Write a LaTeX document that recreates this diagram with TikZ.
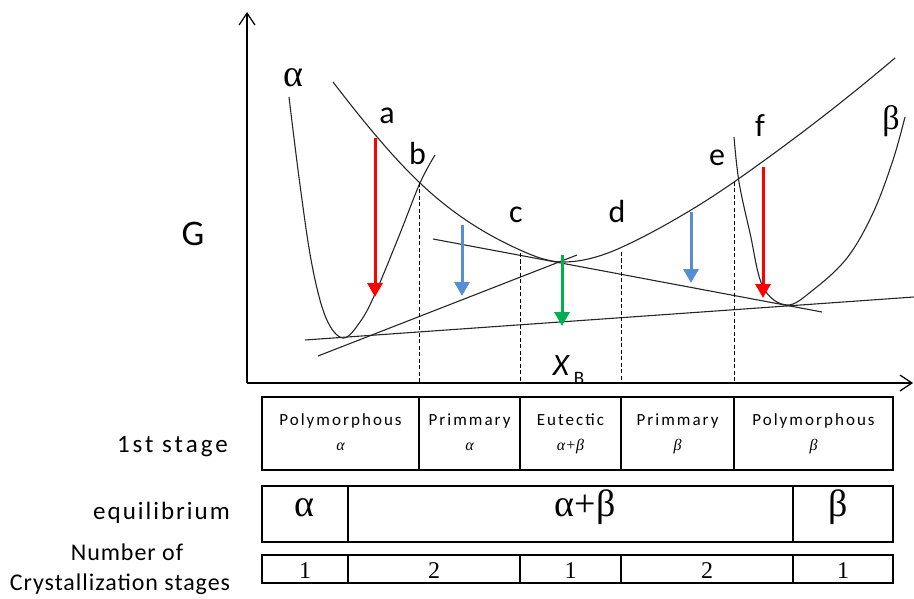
\documentclass[tikz,border=0pt]{standalone}
\usepackage{fontspec}
\setmainfont{Carlito}
\newfontfamily\grk{Liberation Serif}
\usetikzlibrary{arrows.meta}
\definecolor{myred}{HTML}{FF0000}
\definecolor{myblue}{HTML}{558ED5}
\definecolor{mygreen}{HTML}{00B050}
\newcommand\myfs[1]{\fontsize{#1}{#1}\selectfont}
\begin{document}
\begin{tikzpicture}[x=1pt,y=-1pt,
  curve/.style={line width=1.1pt, draw=black!85},
  axisline/.style={line width=1.4pt, -{Straight Barb[length=12pt,width=16pt,line width=1.2pt]}},
  dashv/.style={line width=1pt, dash pattern=on 4pt off 2.5pt},
  cell/.style={draw, line width=1.3pt},
  lbl/.style={font=\myfs{32}, anchor=base, inner sep=0pt},
  glbl/.style={font=\grk\myfs{38}, anchor=base, inner sep=0pt},
  txt/.style={anchor=base, inner sep=0pt},
  downarr/.style={line width=3pt, -{Triangle[width=15pt,length=14pt]}}]
\useasboundingbox (0,0) rectangle (914,599);
% axes
\coordinate (O) at (247,383);
\coordinate (Ytop) at (247,12);
\coordinate (Xend) at (913,383);
\draw[axisline] (O) -- (Ytop);
\draw[axisline] (O) -- (Xend);
% liquid curve
\draw[curve] (333,82) .. controls (362,119.7) and (391,155.45) .. (420,183)
  .. controls (453.3,214.7) and (486.7,235) .. (520,250)
  .. controls (534.3,256.45) and (548.7,262) .. (563,262)
  .. controls (582,262) and (601,256.55) .. (620,248)
  .. controls (643.7,237.35) and (667.3,224.2) .. (691,210)
  .. controls (705.3,201.4) and (719.7,192) .. (734,182)
  .. controls (787.7,144.4) and (841.3,103.6) .. (895,58);
% alpha curve
\draw[curve] plot[smooth, tension=0.6] coordinates {(289,97) (300,185) (312,265) (326,318) (343,338) (360,322) (375,294) (399,236) (420,183) (435,155)};
% beta curve
\draw[curve] plot[smooth, tension=0.6] coordinates {(734,137) (739,182) (750,233) (763,287) (787,305) (813,290) (847,258) (873,213) (893,160) (905,117)};
% tangents
\coordinate (t1a) at (305,340); \coordinate (t1b) at (914,297);
\coordinate (t2a) at (318,356); \coordinate (t2b) at (577,255);
\coordinate (t3a) at (433,239); \coordinate (t3b) at (822,312);
\draw[curve] (t1a) -- (t1b);
\draw[curve] (t2a) -- (t2b);
\draw[curve] (t3a) -- (t3b);
% dashed verticals
\coordinate (vb) at (419,183); \coordinate (vb0) at (419,383);
\coordinate (vc) at (520,253); \coordinate (vc0) at (520,383);
\coordinate (vd) at (621,252); \coordinate (vd0) at (621,383);
\coordinate (ve) at (734,182); \coordinate (ve0) at (734,383);
\draw[dashv] (vb) -- (vb0);
\draw[dashv] (vc) -- (vc0);
\draw[dashv] (vd) -- (vd0);
\draw[dashv] (ve) -- (ve0);
% arrows
\coordinate (r1a) at (375,138); \coordinate (r1b) at (375,297);
\coordinate (b1a) at (462,225); \coordinate (b1b) at (462,296);
\coordinate (g1a) at (562,255); \coordinate (g1b) at (562,326);
\coordinate (b2a) at (691,212); \coordinate (b2b) at (691,283);
\coordinate (r2a) at (763,167); \coordinate (r2b) at (763,298);
\draw[downarr, myred] (r1a) -- (r1b);
\draw[downarr, myblue] (b1a) -- (b1b);
\draw[downarr, mygreen] (g1a) -- (g1b);
\draw[downarr, myblue] (b2a) -- (b2b);
\draw[downarr, myred] (r2a) -- (r2b);
% labels
\node[glbl] (lalpha) at (293.5,87) {α};
\node[glbl, font=\grk\myfs{34}] (lbeta) at (891,130) {β};
\node[lbl] (la) at (387,124) {a};
\node[lbl] (lb) at (417.5,165) {b};
\node[lbl] (lc) at (516,223) {c};
\node[lbl] (ld) at (617,223) {d};
\node[lbl] (le) at (717,166) {e};
\node[lbl] (lf) at (760,137) {f};
\node[lbl, font=\myfs{36}] (lG) at (193,245) {G};
\node[txt, font=\myfs{31}\itshape] (lX) at (561,375) {X};
\node[txt, font=\myfs{19}] (lB) at (579,384) {B};
% table row 1
\draw[cell] (262,397) rectangle (893,470);
\coordinate (d1a) at (419,397); \coordinate (d1b) at (419,470);
\coordinate (d2a) at (520,397); \coordinate (d2b) at (520,470);
\coordinate (d3a) at (621,397); \coordinate (d3b) at (621,470);
\coordinate (d4a) at (734,397); \coordinate (d4b) at (734,470);
\draw[cell] (d1a) -- (d1b); \draw[cell] (d2a) -- (d2b);
\draw[cell] (d3a) -- (d3b); \draw[cell] (d4a) -- (d4b);
\tikzset{ct/.style={txt, font=\myfs{17}\addfontfeature{LetterSpace=12}},
         cg/.style={txt, font=\grk\itshape\myfs{16}}}
\node[ct] (c1a) at (340.5,425) {Polymorphous};
\node[cg] (c1b) at (340.5,450) {α};
\node[ct] (c2a) at (469.5,425) {Primmary};
\node[cg] (c2b) at (469.5,450) {α};
\node[ct] (c3a) at (570.5,425) {Eutectic};
\node[cg] (c3b) at (570.5,450) {α+β};
\node[ct] (c4a) at (677.5,425) {Primmary};
\node[cg] (c4b) at (677.5,450) {β};
\node[ct] (c5a) at (813.5,425) {Polymorphous};
\node[cg] (c5b) at (813.5,450) {β};
% table row 2
\draw[cell] (262,486) rectangle (893,542);
\coordinate (e1a) at (348,486); \coordinate (e1b) at (348,542);
\coordinate (e2a) at (793,486); \coordinate (e2b) at (793,542);
\draw[cell] (e1a) -- (e1b); \draw[cell] (e2a) -- (e2b);
\node[txt, font=\grk\myfs{38}] (q1) at (304,516) {α};
\node[txt, font=\grk\myfs{38}] (q2) at (585,516) {α+β};
\node[txt, font=\grk\myfs{38}] (q3) at (838,516) {β};
% table row 3
\draw[cell] (262,555) rectangle (893,583);
\coordinate (f1a) at (348,555); \coordinate (f1b) at (348,583);
\coordinate (f2a) at (520,555); \coordinate (f2b) at (520,583);
\coordinate (f3a) at (621,555); \coordinate (f3b) at (621,583);
\coordinate (f4a) at (793,555); \coordinate (f4b) at (793,583);
\draw[cell] (f1a) -- (f1b); \draw[cell] (f2a) -- (f2b);
\draw[cell] (f3a) -- (f3b); \draw[cell] (f4a) -- (f4b);
\tikzset{num/.style={txt, font=\grk\myfs{24}}}
\node[num] (n1) at (305,578) {1};
\node[num] (n2) at (434,578) {2};
\node[num] (n3) at (570.5,578) {1};
\node[num] (n4) at (707,578) {2};
\node[num] (n5) at (843,578) {1};
% left labels
\node[txt, anchor=base east, font=\myfs{25}\addfontfeature{LetterSpace=12}] (s1) at (228,452) {1st stage};
\node[txt, anchor=base east, font=\myfs{25}\addfontfeature{LetterSpace=8}] (s2) at (230,519) {equilibrium};
\node[txt, font=\myfs{24}\addfontfeature{LetterSpace=4}] (s3) at (127,560) {Number of};
\node[txt, font=\myfs{24}\addfontfeature{LetterSpace=4}] (s4) at (120,590) {Crystallization stages};
\end{tikzpicture}
\end{document}
